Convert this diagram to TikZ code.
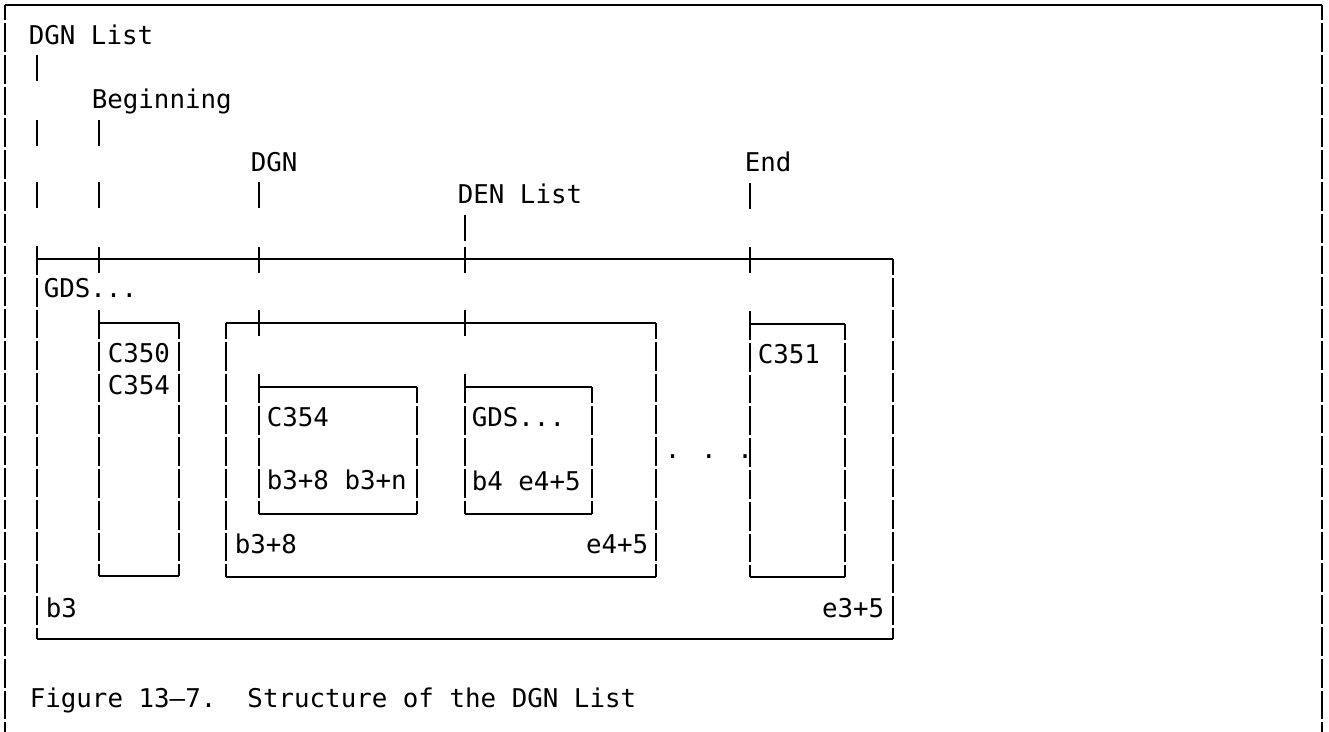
\documentclass[tikz,border=0pt]{standalone}
\usepackage{fontspec}
\newfontfamily\dgnmono{DejaVu Sans Mono}
\usetikzlibrary{calc}

\begin{document}
\begin{tikzpicture}[x=.02cm,y=-.02cm,line width=.9pt,
  lbl/.style={anchor=base west,inner sep=0pt,font=\dgnmono\fontsize{14.7}{17}\selectfont},
  rlbl/.style={lbl,anchor=base east},
  vseg/.style={dash pattern=on .576cm off .06cm},
  vmid/.style={vseg,dash phase=.26cm}]
  \useasboundingbox (0,0) rectangle (1329,732);
  \draw (5,5) -- (1322,5);
  \draw[vseg,dash phase=.276cm] (5,5) -- (5,732);
  \draw[vseg,dash phase=.276cm] (1322,5) -- (1322,732);

  % labels over the list
  \node[lbl] (dgnlist) at (28,45) {DGN List};
  \node[lbl] (begin) at (91,109) {Beginning};
  \node[lbl] (dgn) at (250,172) {DGN};
  \node[lbl] (endlbl) at (744,172) {End};
  \node[lbl] (denlist) at (457,204) {DEN List};

  % bar pieces, one per text row
  \foreach \x/\y in {37/55,37/120,37/182,99/120,99/182,259/182,750/183,465/215,
                     99/247,259/247,465/247,750/247,259/310,465/310}
    \draw (\x,\y) -- ++(0,26);

  % outer GDS
  \draw (37,639) -- (893,639);
  \draw (37,259) -- (893,259);
  \draw[vseg] (37,246) -- (37,639);
  \draw[vmid] (893,259) -- (893,639);
  % DGN
  \draw (226,323) -- (656,323) (226,577) -- (656,577);
  \draw[vmid] (226,323) -- (226,577);
  \draw[vmid] (656,323) -- (656,577);
  % boxes hanging from a bar
  \foreach \l/\t/\r/\b in {99/323/179/576,750/324/845/577,259/387/417/514,465/387/592/514} {
    \draw (\l,\t) -- (\r,\t) (\l,\b) -- (\r,\b);
    \draw[vseg] (\l,\t-13) -- (\l,\b);
    \draw[vmid] (\r,\t) -- (\r,\b);
  }

  \node[lbl] (gds) at (43,298) {GDS...};
  \node[lbl] (c350) at (107,363) {C350};
  \node[lbl] (c354a) at (107,395) {C354};
  \node[lbl] (c354b) at (266,427) {C354};
  \node[lbl] (gdsden) at (471,427) {GDS...};
  \node[lbl] (dgnoff) at (266,490) {b3+8 b3+n};
  \node[lbl] (denoff) at (471,491) {b4 e4+5};
  \node[lbl] (more) at (664,459) {. . .};
  \node[lbl] (dgnbeg) at (234,554) {b3+8};
  \node[rlbl] (dgnend) at (649,554) {e4+5};
  \node[lbl] (c351) at (757,364) {C351};
  \node[lbl] (gdsbeg) at (45,618) {b3};
  \node[rlbl] (gdsend) at (885,618) {e3+5};

  \node[lbl] (caption) at (29,708) {Figure 13–7.\ \ Structure of the DGN List};
\end{tikzpicture}
\end{document}
